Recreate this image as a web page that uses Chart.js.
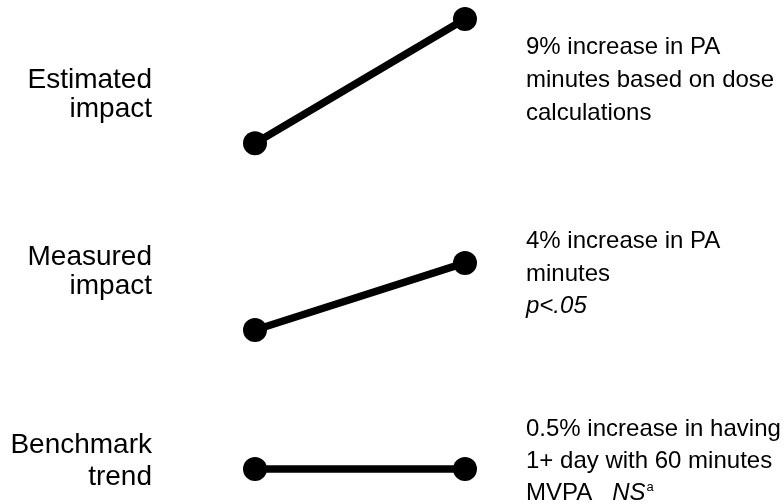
<!DOCTYPE html>
<html>
<head>
<meta charset="utf-8">
<script src="https://cdn.jsdelivr.net/npm/chart.js@4/dist/chart.umd.min.js"></script>
<style>
  html, body { margin: 0; padding: 0; background: #ffffff; }
  #wrap { width: 784px; height: 504px; position: relative; }
</style>
</head>
<body>
<div id="wrap"><canvas id="c" width="784" height="504"></canvas></div>
<script>
// ---- Data (relative levels) ----
const timepoints = ["Before", "After"];
const seriesNames = ["Estimated impact", "Measured impact", "Benchmark trend"];
const estimatedImpact = [72.4, 100];
const measuredImpact = [30.9, 45.8];
const benchmarkTrend = [0, 0];

// Text labels
const leftLabels = [
  ["Estimated", "impact"],
  ["Measured", "impact"],
  ["Benchmark", "trend"]
];
// Each note: list of lines; each line: list of runs [text, style]
const notes = [
  [[["9% increase in PA", "n"]], [["minutes based on dose", "n"]], [["calculations", "n"]]],
  [[["4% increase in PA", "n"]], [["minutes", "n"]], [["p<.05", "i"]]],
  [[["0.5% increase in having", "n"]], [["1+ day with 60 minutes", "n"]], [["MVPA   ", "n"], ["NS", "i"], ["a", "sup"]]]
];

// ---- Layout (styles only) ----
const FONT = '"Liberation Sans", Arial, Helvetica, sans-serif';
const labelLayout = { x: 152, baselines: [[88, 117], [265, 294], [453, 485]], size: 28 };
const noteLayout = { x: 526, baselines: [[54, 87, 120], [248, 281, 313], [436, 468, 500]], size: 24 };

const textPlugin = {
  id: 'sideText',
  afterDraw(chart) {
    const ctx = chart.ctx;
    ctx.save();
    ctx.fillStyle = '#000';
    ctx.textBaseline = 'alphabetic';
    // left labels
    ctx.textAlign = 'right';
    ctx.font = labelLayout.size + 'px ' + FONT;
    leftLabels.forEach((lines, i) => {
      lines.forEach((t, j) => ctx.fillText(t, labelLayout.x, labelLayout.baselines[i][j]));
    });
    // right notes
    ctx.textAlign = 'left';
    notes.forEach((lines, i) => {
      lines.forEach((runs, j) => {
        let x = noteLayout.x;
        const y = noteLayout.baselines[i][j];
        runs.forEach(([txt, st]) => {
          let size = noteLayout.size, dy = 0, style = '';
          if (st === 'i') style = 'italic ';
          if (st === 'sup') { size = 13; dy = -9; x += 1; }
          ctx.font = style + size + 'px ' + FONT;
          ctx.fillText(txt, x, y + dy);
          x += ctx.measureText(txt).width;
        });
      });
    });
    ctx.restore();
  }
};

const mk = (name, data) => ({
  label: name,
  data: data,
  borderColor: '#000',
  backgroundColor: '#000',
  borderWidth: 7.5,
  pointRadius: 12,
  pointHoverRadius: 12,
  pointBackgroundColor: '#000',
  pointBorderWidth: 0,
  tension: 0,
  clip: false
});

new Chart(document.getElementById('c'), {
  type: 'line',
  data: {
    labels: timepoints,
    datasets: [
      mk(seriesNames[0], estimatedImpact),
      mk(seriesNames[1], measuredImpact),
      mk(seriesNames[2], benchmarkTrend)
    ]
  },
  options: {
    responsive: false,
    animation: false,
    devicePixelRatio: 1,
    layout: { padding: { left: 255, right: 319, top: 19, bottom: 35 } },
    plugins: { legend: { display: false }, tooltip: { enabled: false }, title: { display: false } },
    scales: {
      x: { display: false, offset: false },
      y: { display: false, min: 0, max: 100 }
    }
  },
  plugins: [textPlugin]
});
</script>
</body>
</html>
